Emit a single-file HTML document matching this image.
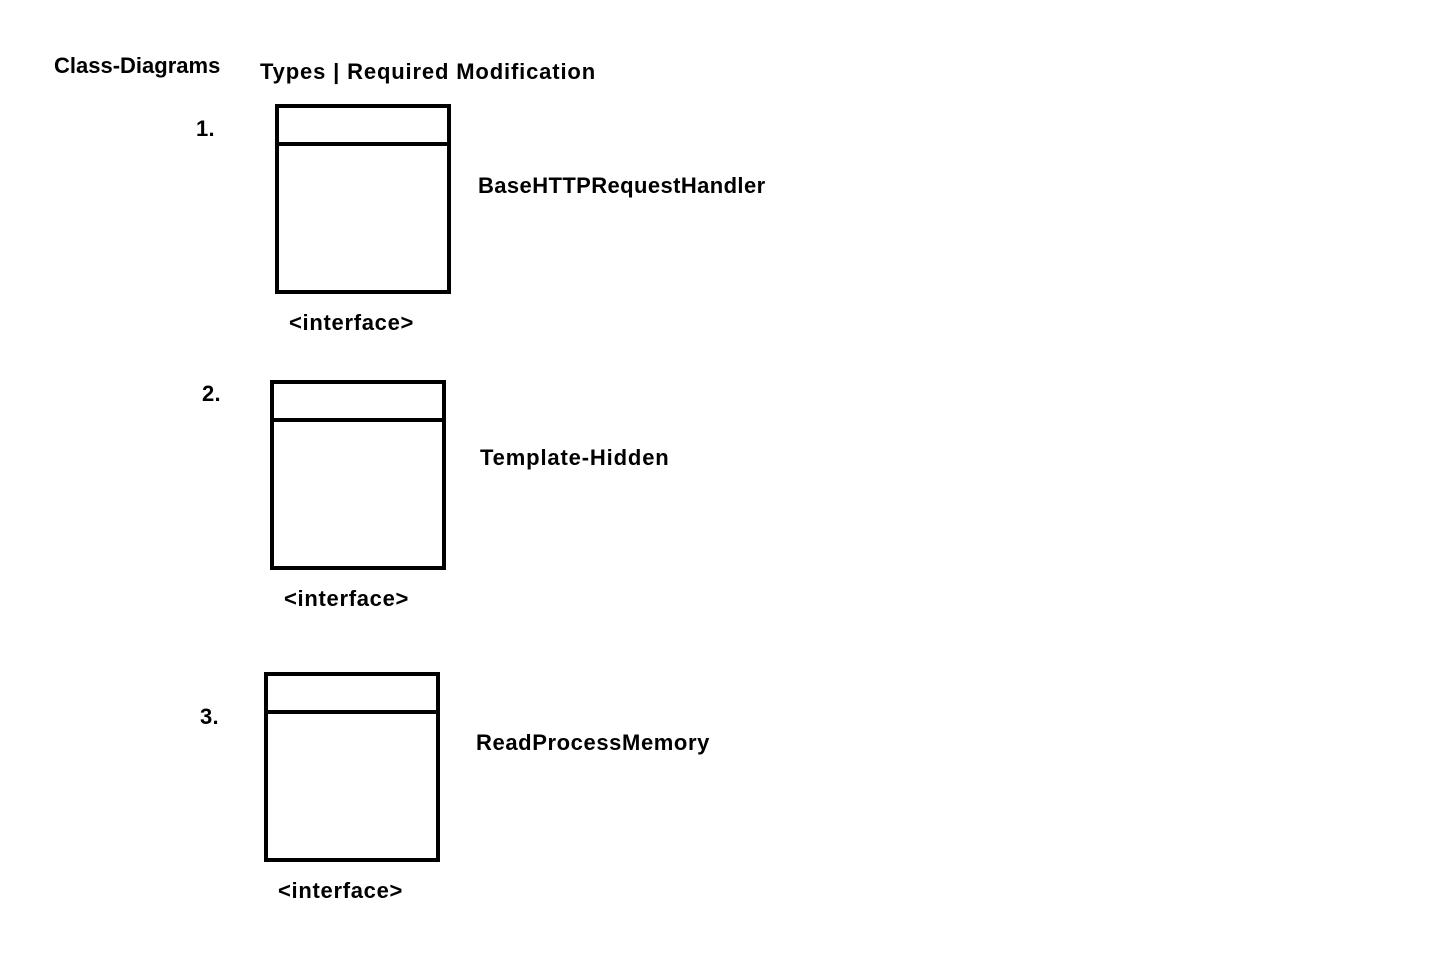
<!DOCTYPE html>
<html><head><style>
body{margin:0;width:1450px;height:964px;background:#fff;position:relative;overflow:hidden;font-family:"Liberation Sans",sans-serif;font-weight:bold;color:#000}
.t{position:absolute;font-size:22px;white-space:nowrap;line-height:1;letter-spacing:0.3px}
.b{position:absolute;width:168px;height:182px;border:4px solid #000}
.b div{position:absolute;left:0;right:0;top:34px;height:4px;background:#000}
</style></head><body>
<div class="t" style="left:54px;top:55px;letter-spacing:0px">Class-Diagrams</div>
<div class="t" style="left:260px;top:61px;letter-spacing:0.85px">Types | Required Modification</div>
<div class="t" style="left:196px;top:118px">1.</div>
<div class="t" style="left:202px;top:383px">2.</div>
<div class="t" style="left:200px;top:706px">3.</div>
<div class="b" style="left:275px;top:104px"><div></div></div>
<div class="b" style="left:270px;top:380px"><div></div></div>
<div class="b" style="left:264px;top:672px"><div></div></div>
<div class="t" style="left:478px;top:175px;letter-spacing:0.4px">BaseHTTPRequestHandler</div>
<div class="t" style="left:480px;top:447px;letter-spacing:0.85px">Template-Hidden</div>
<div class="t" style="left:476px;top:732px;letter-spacing:0.6px">ReadProcessMemory</div>
<div class="t" style="left:289px;top:312px;letter-spacing:0.7px">&lt;interface&gt;</div>
<div class="t" style="left:284px;top:588px;letter-spacing:0.7px">&lt;interface&gt;</div>
<div class="t" style="left:278px;top:880px;letter-spacing:0.7px">&lt;interface&gt;</div>
</body></html>
